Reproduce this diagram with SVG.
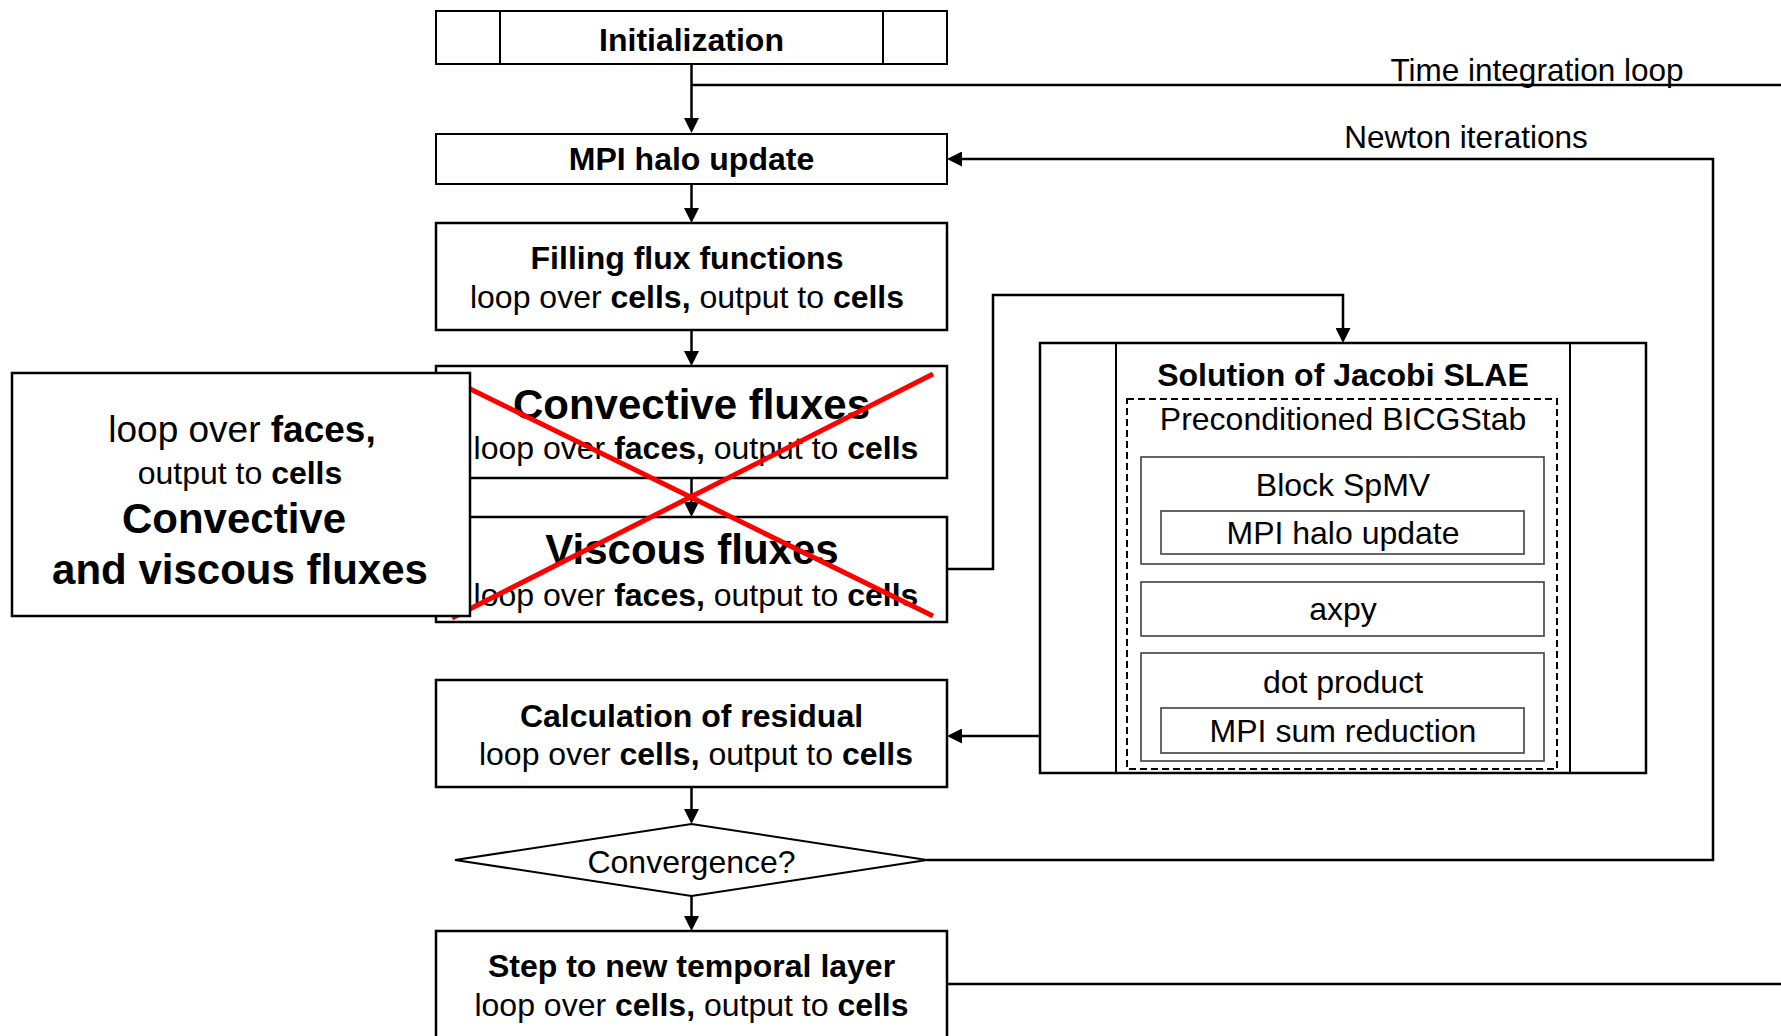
<svg xmlns="http://www.w3.org/2000/svg" width="1781" height="1036" viewBox="0 0 1781 1036">
<style>
text{font-family:"Liberation Sans",Arial,sans-serif;fill:#000;text-anchor:middle}
.b{font-weight:bold}
.t32{font-size:32px}
.box{fill:#fff;stroke:#000;stroke-width:2.5}
.thin{fill:#fff;stroke:#000;stroke-width:2}
.inner{fill:#fff;stroke:#404040;stroke-width:1.6}
.dash{fill:none;stroke:#000;stroke-width:2;stroke-dasharray:7 4}
.con{fill:none;stroke:#000;stroke-width:2.5}
.red{stroke:#ff0000;stroke-width:5;stroke-linecap:butt}
</style>
<defs>
<marker id="arr" viewBox="0 0 15 15" refX="12" refY="7.5" markerWidth="15" markerHeight="15" markerUnits="userSpaceOnUse" orient="auto">
<path d="M0,0 L15,7.5 L0,15 z" fill="#000"/>
</marker>
</defs>
<rect width="1781" height="1036" fill="#fff"/>

<g id="connectors">
<path class="con" d="M691.5,64 V130" marker-end="url(#arr)"/>
<path class="con" d="M1781,85 H691.5"/>
<path class="con" d="M691.5,184 V220" marker-end="url(#arr)"/>
<path class="con" d="M691.5,330 V363" marker-end="url(#arr)"/>
<path class="con" d="M691.5,478 V514" marker-end="url(#arr)"/>
<path class="con" d="M947,569 H993 V295 H1343 V340" marker-end="url(#arr)"/>
<path class="con" d="M1040,736 H950" marker-end="url(#arr)"/>
<path class="con" d="M691.5,787 V821" marker-end="url(#arr)"/>
<path class="con" d="M691.5,896 V928" marker-end="url(#arr)"/>
<path class="con" d="M927,860 H1713 V159 H950" marker-end="url(#arr)"/>
<path class="con" d="M947,984 H1781"/>
<text x="1537" y="81" style="font-size:31.5px">Time integration loop</text>
<text x="1466" y="148" style="font-size:31.5px">Newton iterations</text>
</g>

<g id="init">
<rect class="thin" x="436" y="11" width="511" height="53"/>
<line x1="500" y1="11" x2="500" y2="64" stroke="#000" stroke-width="2"/>
<line x1="883" y1="11" x2="883" y2="64" stroke="#000" stroke-width="2"/>
<text x="691.5" y="51" class="b t32">Initialization</text>
</g>

<g id="mpi-halo">
<rect class="thin" x="436" y="134" width="511" height="50"/>
<text x="691.5" y="170" class="b t32">MPI halo update</text>
</g>

<g id="filling">
<rect class="box" x="436" y="223" width="511" height="107"/>
<text x="687" y="269" class="b t32">Filling flux functions</text>
<text x="687" y="308" class="t32">loop over <tspan class="b">cells,</tspan> output to <tspan class="b">cells</tspan></text>
</g>

<g id="convective">
<rect class="box" x="436" y="366" width="511" height="112"/>
<text x="691.5" y="419" class="b" style="font-size:42px">Convective fluxes</text>
<text x="696" y="459" class="t32">loop over <tspan class="b">faces,</tspan> output to <tspan class="b">cells</tspan></text>
</g>

<g id="viscous">
<rect class="box" x="436" y="517" width="511" height="105"/>
<text x="692" y="564" class="b" style="font-size:42px">Viscous fluxes</text>
<text x="696" y="606" class="t32">loop over <tspan class="b">faces,</tspan> output to <tspan class="b">cells</tspan></text>
</g>

<g id="cross">
<line class="red" x1="452" y1="380" x2="933" y2="616"/>
<line class="red" x1="933" y1="374" x2="452" y2="618"/>
</g>

<g id="merged">
<rect class="box" x="12" y="373" width="458" height="243"/>
<text x="242" y="442" style="font-size:37px">loop over <tspan class="b">faces,</tspan></text>
<text x="240" y="484" class="t32">output to <tspan class="b">cells</tspan></text>
<text x="234" y="533" class="b" style="font-size:42px">Convective</text>
<text x="240" y="584" class="b" style="font-size:42px">and viscous fluxes</text>
</g>

<g id="solution">
<rect class="box" x="1040" y="343" width="606" height="430"/>
<line x1="1116" y1="343" x2="1116" y2="773" stroke="#000" stroke-width="2"/>
<line x1="1570" y1="343" x2="1570" y2="773" stroke="#000" stroke-width="2"/>
<text x="1343" y="386" class="b t32">Solution of Jacobi SLAE</text>
<rect class="dash" x="1127" y="399" width="430" height="370"/>
<text x="1343" y="430" class="t32">Preconditioned BICGStab</text>
<g id="spmv">
<rect class="inner" x="1141" y="457" width="403" height="107"/>
<text x="1343" y="496" class="t32">Block SpMV</text>
<rect class="inner" x="1161" y="511" width="363" height="43"/>
<text x="1343" y="544" class="t32">MPI halo update</text>
</g>
<g id="axpy">
<rect class="inner" x="1141" y="582" width="403" height="54"/>
<text x="1343" y="620" class="t32">axpy</text>
</g>
<g id="dot">
<rect class="inner" x="1141" y="653" width="403" height="108"/>
<text x="1343" y="693" class="t32">dot product</text>
<rect class="inner" x="1161" y="708" width="363" height="45"/>
<text x="1343" y="742" class="t32">MPI sum reduction</text>
</g>
</g>

<g id="residual">
<rect class="box" x="436" y="680" width="511" height="107"/>
<text x="691.5" y="727" class="b t32">Calculation of residual</text>
<text x="696" y="765" class="t32">loop over <tspan class="b">cells,</tspan> output to <tspan class="b">cells</tspan></text>
</g>

<g id="convergence">
<polygon points="455,860 691.5,824 927,860 691.5,896" fill="#fff" stroke="#000" stroke-width="2"/>
<text x="691.5" y="873" class="t32">Convergence?</text>
</g>

<g id="step">
<rect class="box" x="436" y="931" width="511" height="130"/>
<text x="691.5" y="977" class="b t32">Step to new temporal layer</text>
<text x="691.5" y="1016" class="t32">loop over <tspan class="b">cells,</tspan> output to <tspan class="b">cells</tspan></text>
</g>
</svg>
